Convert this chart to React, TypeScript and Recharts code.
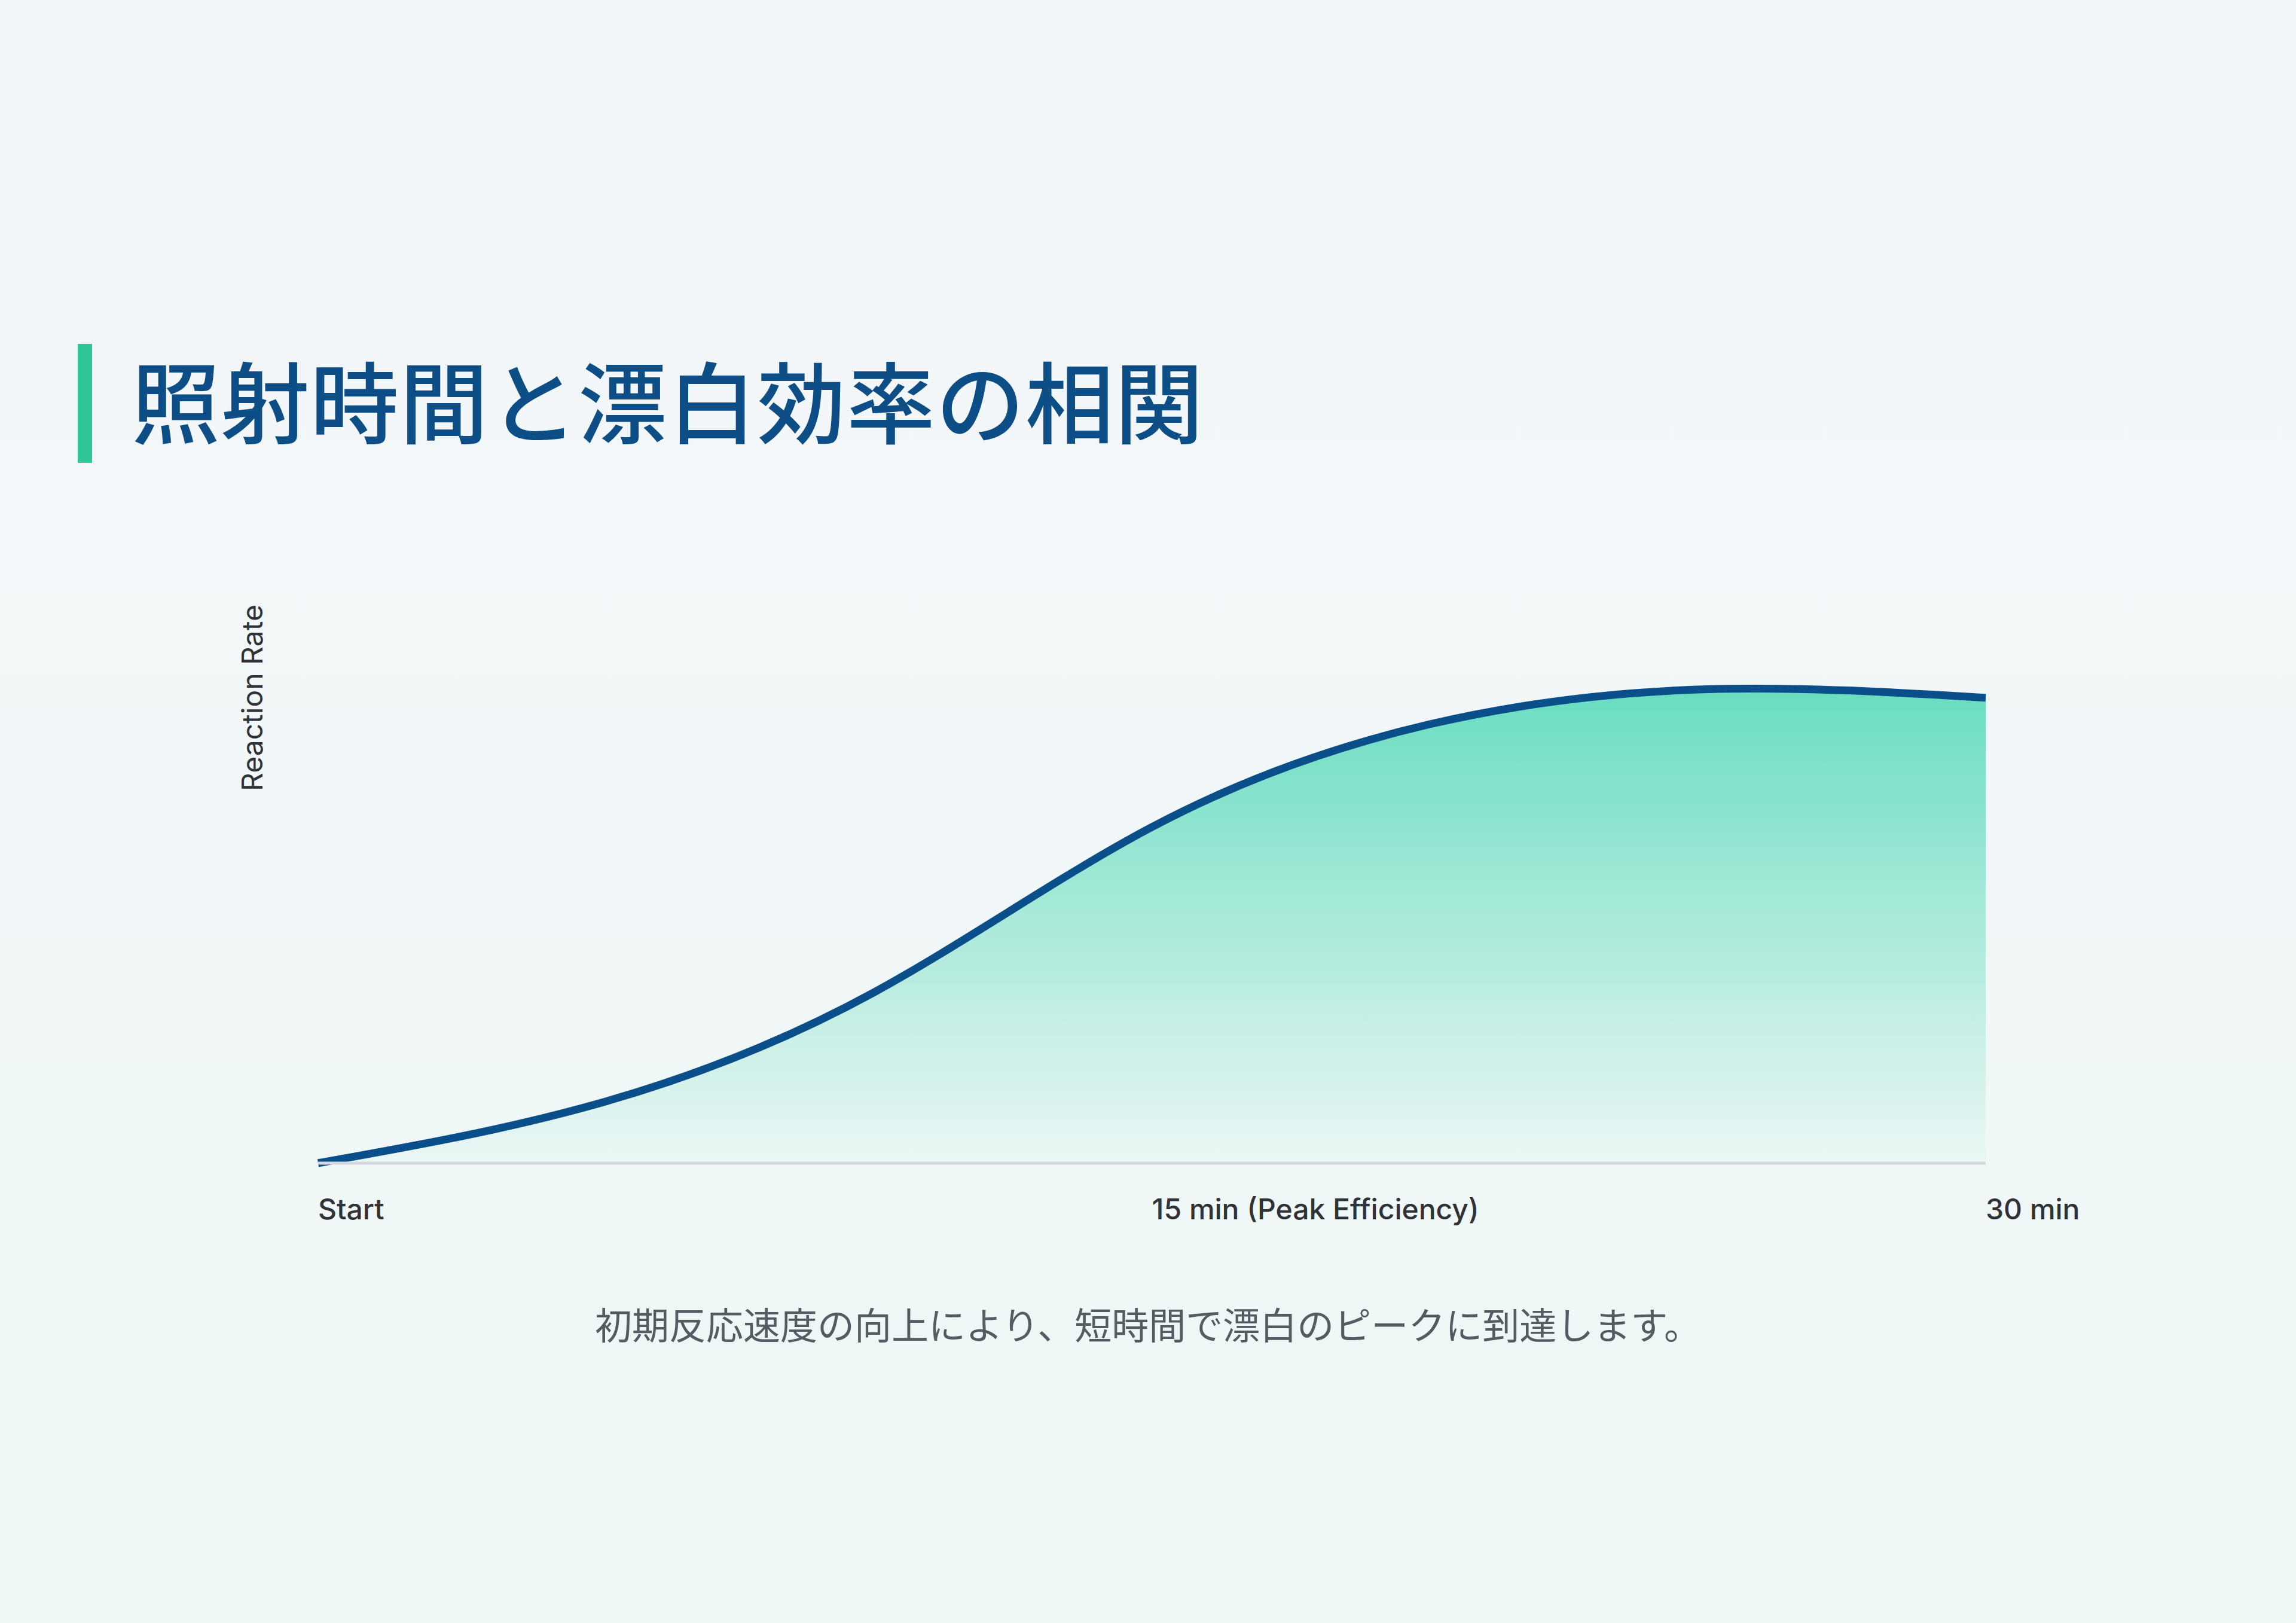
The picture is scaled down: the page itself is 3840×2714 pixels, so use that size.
import React from 'react';
import { AreaChart, Area, XAxis, YAxis } from 'recharts';

// minutes of irradiation and reaction rate
const minutes = [0, 5, 10, 15, 20, 25, 30];
const reactionRate = [0, 11.8, 34.2, 67.3, 87.9, 94.9, 93.2];

const tickValues = [0, 15, 30];
const tickLabels = ['Start', '15 min (Peak Efficiency)', '30 min'];

const title = '照射時間と漂白効率の相関';
const caption = '初期反応速度の向上により、短時間で漂白のピークに到達します。';
const yLabel = 'Reaction Rate';

const data = minutes.map((m, i) => ({ minute: m, rate: reactionRate[i] }));

const AxisTick = (props: any) => {
  const { x, y, payload } = props;
  const idx = tickValues.indexOf(payload.value);
  return (
    <text
      x={x}
      y={y}
      dy={92}
      textAnchor="start"
      fill="#2f3338"
      fontSize={48}
      fontWeight={500}
      fontFamily="Inter, Roboto, sans-serif"
    >
      {tickLabels[idx]}
    </text>
  );
};

const App: React.FC = () => {
  return (
    <div
      style={{
        position: 'absolute',
        left: 0,
        top: 0,
        width: 3840,
        height: 2714,
        overflow: 'hidden',
        background: 'linear-gradient(180deg, #f3f6f9 0%, #f1f7f8 55%, #eef7f5 100%)',
      }}
    >
      {/* accent bar */}
      <div style={{ position: 'absolute', left: 130, top: 575, width: 24, height: 199, background: '#2dc896' }} />
      <div
        style={{
          position: 'absolute',
          left: 220,
          top: 592,
          fontFamily: '"Noto Sans CJK JP", sans-serif',
          fontWeight: 500,
          fontSize: 148,
          lineHeight: '148px',
          letterSpacing: 1.5,
          color: '#0d4e86',
          whiteSpace: 'nowrap',
        }}
      >
        {title}
      </div>

      <div
        style={{
          position: 'absolute',
          left: 262,
          top: 1137,
          width: 320,
          height: 60,
          lineHeight: '60px',
          textAlign: 'center',
          transform: 'rotate(-90deg)',
          fontFamily: 'Inter, Roboto, sans-serif',
          fontSize: 48,
          color: '#2f3338',
          whiteSpace: 'nowrap',
        }}
      >
        {yLabel}
      </div>

      <div style={{ position: 'absolute', left: 0, top: 1000 }}>
        <AreaChart
          width={3840}
          height={1050}
          data={data}
          margin={{ top: 110, right: 519, left: 532, bottom: 5 }}
        >
          <defs>
            <linearGradient id="rateFill" x1="0" y1="0" x2="0" y2="1">
              <stop offset="0%" stopColor="#5ddbbb" stopOpacity={0.92} />
              <stop offset="100%" stopColor="#5ddbbb" stopOpacity={0.03} />
            </linearGradient>
          </defs>
          <XAxis
            dataKey="minute"
            type="number"
            domain={[0, 30]}
            ticks={tickValues}
            interval={0}
            tickLine={false}
            tickSize={0}
            axisLine={{ stroke: '#d4d9de', strokeWidth: 5 }}
            tick={<AxisTick />}
            height={100}
          />
          <YAxis hide domain={[0, 100]} width={0} />
          <Area
            type="natural"
            dataKey="rate"
            stroke="#0b4f8a"
            strokeWidth={13}
            fill="url(#rateFill)"
            fillOpacity={1}
            dot={false}
            activeDot={false}
            isAnimationActive={false}
          />
        </AreaChart>
      </div>

      <div
        style={{
          position: 'absolute',
          left: 0,
          top: 2182,
          width: 3840,
          textAlign: 'center',
          fontFamily: '"Noto Sans CJK JP", sans-serif',
          fontSize: 62,
          lineHeight: '62px',
          color: '#535b63',
          whiteSpace: 'nowrap',
        }}
      >
        {caption}
      </div>
    </div>
  );
};

export default App;
